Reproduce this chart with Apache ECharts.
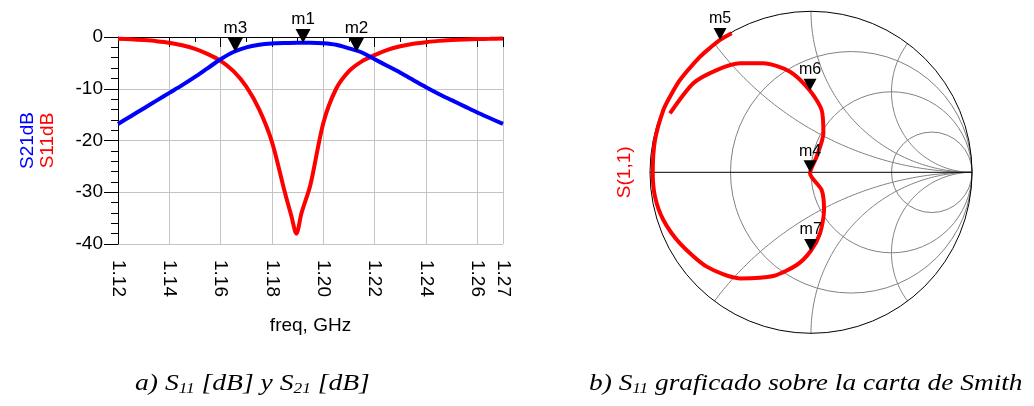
<!DOCTYPE html>
<html>
<head>
<meta charset="utf-8">
<script src="https://cdn.jsdelivr.net/npm/echarts@6/dist/echarts.min.js"></script>
<style>
  html, body { margin: 0; padding: 0; background: #fff; }
  #main { width: 1034px; height: 406px; }
</style>
</head>
<body>
<div id="main"></div>
<script>
// a) S21 / S11 en dB contra frecuencia (GHz)
var freq21 = [1.12, 1.125, 1.13, 1.135, 1.14, 1.145, 1.15, 1.155, 1.16, 1.165, 1.17, 1.175, 1.18, 1.185, 1.19, 1.195,
  1.2, 1.205, 1.21, 1.215, 1.22, 1.225, 1.23, 1.235, 1.24, 1.245, 1.25, 1.255, 1.26, 1.265, 1.27];
var s21dB = [-16.8, -15.3, -13.8, -12.3, -10.8, -9.3, -7.7, -6.0, -4.3, -2.9, -2.0, -1.5, -1.25, -1.15, -1.1, -1.1,
  -1.2, -1.5, -2.2, -3.0, -4.3, -5.6, -6.9, -8.3, -9.7, -11.0, -12.2, -13.4, -14.6, -15.7, -16.8];

var freq11 = [1.12, 1.125, 1.13, 1.135, 1.14, 1.145, 1.15, 1.155, 1.16, 1.165, 1.17, 1.175, 1.18, 1.185, 1.1875, 1.1895,
  1.1915, 1.195, 1.2, 1.205, 1.21, 1.215, 1.22, 1.225, 1.23, 1.235, 1.24, 1.245, 1.25, 1.255, 1.26, 1.265, 1.27];
var s11dB = [-0.35, -0.45, -0.6, -0.8, -1.1, -1.6, -2.3, -3.3, -4.6, -6.6, -9.6, -14.0, -20.3, -30.0, -34.5, -38.0,
  -34.0, -28.5, -16.6, -10.0, -6.6, -4.7, -3.5, -2.5, -1.8, -1.3, -1.0, -0.75, -0.6, -0.5, -0.4, -0.35, -0.3];

var markNames = ['m3', 'm1', 'm2'];
var markFreq = [1.1657, 1.1921, 1.2129];
var markdB = [-2.9, -1.16, -2.9];

// b) S11 sobre la carta de Smith (parte real / imaginaria)
var s11Re = [-0.493, -0.565, -0.628, -0.689, -0.814, -0.870, -0.917, -0.969, -0.983, -0.969, -0.917, -0.814, -0.648,
  -0.441, -0.234, -0.089, -0.002, 0.056, 0.081, 0.066, -0.006, 0.035, 0.077, 0.066, -0.006, -0.130, -0.296, -0.441,
  -0.586, -0.731, -0.876];
var s11Im = [0.863, 0.822, 0.772, 0.718, 0.573, 0.480, 0.387, 0.2, 0, -0.151, -0.296, -0.441, -0.586,
  -0.659, -0.644, -0.576, -0.489, -0.379, -0.234, -0.110, -0.006, 0.097, 0.242, 0.387, 0.507, 0.625, 0.677, 0.677,
  0.635, 0.553, 0.366];

var smithMarkNames = ['m5', 'm6', 'm4', 'm7'];
var smithMarkRe = [-0.565, -0.006, -0.006, -0.002];
var smithMarkIm = [0.822, 0.507, 0.0, -0.489];

// rejilla de la carta: circulos de resistencia y arcos de reactancia
var smithR = [1 / 3, 1, 3];
var smithX = [0.5, 1, 2];

var FONT = 'Liberation Sans, Arial, sans-serif';
var SERIF = 'Liberation Serif, Times New Roman, serif';
var TRI = 'path://M0,0L10,0L5,10Z';

function pairs(xs, ys) {
  return xs.map(function (x, i) { return [x, ys[i]]; });
}
function marks(names, xs, ys) {
  return names.map(function (n, i) { return { name: n, value: [xs[i], ys[i]] }; });
}

function renderSmithGrid(params, api) {
  var o = api.coord([0, 0]);
  var R = api.size([1, 1])[0];
  var grey = { stroke: '#808080', fill: 'none', lineWidth: 1 };
  var children = [];
  smithR.forEach(function (r) {
    var c = api.coord([r / (1 + r), 0]);
    children.push({ type: 'circle', shape: { cx: c[0], cy: c[1], r: R / (1 + r) }, style: grey });
  });
  smithX.forEach(function (x) {
    var bx = (x * x - 1) / (x * x + 1), by = 2 * x / (x * x + 1);
    var t0 = Math.atan2(by - 1 / x, bx - 1);
    if (t0 < 0) t0 += 2 * Math.PI;
    [1, -1].forEach(function (sg) {
      var pts = [];
      for (var i = 0; i <= 80; i++) {
        var t = t0 + (1.5 * Math.PI - t0) * i / 80;
        pts.push(api.coord([1 + Math.cos(t) / x, sg * (1 / x + Math.sin(t) / x)]));
      }
      children.push({ type: 'polyline', shape: { points: pts }, style: grey });
    });
  });
  var a = api.coord([-1, 0]), b = api.coord([1, 0]);
  children.push({ type: 'line', shape: { x1: a[0], y1: a[1], x2: b[0], y2: b[1] }, style: { stroke: '#000', lineWidth: 1 } });
  children.push({ type: 'circle', shape: { cx: o[0], cy: o[1], r: R }, style: { stroke: '#000', fill: 'none', lineWidth: 1 } });
  return { type: 'group', children: children };
}

var chart = echarts.init(document.getElementById('main'));
chart.setOption({
  animation: false,
  textStyle: { fontFamily: FONT },
  grid: [
    { left: 118, top: 37, width: 385, height: 207 },
    { left: 650, top: 11.3, width: 322, height: 322 }
  ],
  xAxis: [
    {
      type: 'value', gridIndex: 0, min: 1.12, max: 1.27, interval: 0.02,
      name: 'freq, GHz', nameLocation: 'middle', nameGap: 72,
      nameTextStyle: { fontSize: 19, color: '#000', fontFamily: FONT },
      axisLine: { lineStyle: { color: '#000' } },
      axisTick: { length: 10, lineStyle: { color: '#000' } },
      minorTick: { show: true, splitNumber: 2, length: 5, lineStyle: { color: '#000' } },
      splitLine: { show: true, lineStyle: { color: '#c4c4c4' } },
      axisLabel: {
        rotate: -90, fontSize: 19, color: '#000', margin: 16, fontFamily: FONT,
        showMinLabel: true, showMaxLabel: true,
        formatter: function (v) { return v.toFixed(2); }
      }
    },
    {
      type: 'value', gridIndex: 0, position: 'top', min: 1.12, max: 1.27,
      axisLine: { show: true, onZero: false, lineStyle: { color: '#000' } },
      axisTick: { show: false }, axisLabel: { show: false }, splitLine: { show: false }
    },
    { type: 'value', gridIndex: 1, min: -1, max: 1, show: false }
  ],
  yAxis: [
    {
      type: 'value', gridIndex: 0, min: -40, max: 0, interval: 10,
      name: '{b|S21dB}\n{r|S11dB}', nameLocation: 'middle', nameGap: 60, nameRotate: 90,
      nameTextStyle: {
        fontFamily: FONT,
        rich: {
          b: { color: '#0000ff', fontSize: 19, lineHeight: 20, fontFamily: FONT },
          r: { color: '#ff0000', fontSize: 19, lineHeight: 20, fontFamily: FONT }
        }
      },
      axisLine: { show: true, lineStyle: { color: '#000' } },
      axisTick: { length: 14, lineStyle: { color: '#000' } },
      minorTick: { show: true, splitNumber: 5, length: 7, lineStyle: { color: '#000' } },
      splitLine: { show: true, lineStyle: { color: '#c4c4c4' } },
      axisLabel: { fontSize: 19, color: '#000', margin: 15, fontFamily: FONT }
    },
    {
      type: 'value', gridIndex: 1, min: -1, max: 1,
      name: 'S(1,1)', nameLocation: 'middle', nameGap: 16, nameRotate: 90,
      nameTextStyle: { color: '#ff0000', fontSize: 19, fontFamily: FONT },
      axisLine: { show: false }, axisTick: { show: false }, axisLabel: { show: false }, splitLine: { show: false }
    }
  ],
  series: [
    {
      type: 'custom', xAxisIndex: 2, yAxisIndex: 1, silent: true,
      data: [[0, 0]], renderItem: renderSmithGrid, z: 1
    },
    {
      name: 'S11dB', type: 'line', xAxisIndex: 0, yAxisIndex: 0,
      data: pairs(freq11, s11dB), showSymbol: false, smooth: 0.3,
      lineStyle: { color: '#ff0000', width: 4 }, z: 3
    },
    {
      name: 'S21dB', type: 'line', xAxisIndex: 0, yAxisIndex: 0,
      data: pairs(freq21, s21dB), showSymbol: false, smooth: 0.3,
      lineStyle: { color: '#0000ff', width: 4 }, z: 3
    },
    {
      type: 'scatter', xAxisIndex: 0, yAxisIndex: 0,
      data: marks(markNames, markFreq, markdB),
      symbol: TRI, symbolSize: [15, 14], symbolOffset: [0, '-50%'],
      itemStyle: { color: '#000', opacity: 1 },
      label: { show: true, position: 'top', distance: 1, formatter: '{b}', fontSize: 17, color: '#000', fontFamily: FONT },
      z: 5
    },
    {
      name: 'S(1,1)', type: 'line', xAxisIndex: 2, yAxisIndex: 1,
      data: pairs(s11Re, s11Im), showSymbol: false, smooth: 0.25,
      lineStyle: { color: '#ff0000', width: 4 }, z: 3
    },
    {
      type: 'scatter', xAxisIndex: 2, yAxisIndex: 1,
      data: marks(smithMarkNames, smithMarkRe, smithMarkIm),
      symbol: TRI, symbolSize: [13, 12], symbolOffset: [0, '-50%'],
      itemStyle: { color: '#000', opacity: 1 },
      label: { show: true, position: 'top', distance: 1, formatter: '{b}', fontSize: 16, color: '#000', fontFamily: FONT },
      z: 5
    }
  ],
  graphic: [
    {
      type: 'text', x: 135, y: 384, scaleX: 1.15,
      style: {
        text: '{n|a) S}{s|11}{n| [dB] y S}{s|21}{n| [dB]}',
        verticalAlign: 'middle',
        rich: {
          n: { fontFamily: SERIF, fontStyle: 'italic', fontSize: 24, fill: '#000' },
          s: { fontFamily: SERIF, fontStyle: 'italic', fontSize: 15, fill: '#000', padding: [10, 0, 0, 0] }
        }
      }
    },
    {
      type: 'text', x: 589, y: 384, scaleX: 1.14,
      style: {
        text: '{n|b) S}{s|11}{n| graficado sobre la carta de Smith}',
        verticalAlign: 'middle',
        rich: {
          n: { fontFamily: SERIF, fontStyle: 'italic', fontSize: 24, fill: '#000' },
          s: { fontFamily: SERIF, fontStyle: 'italic', fontSize: 15, fill: '#000', padding: [10, 0, 0, 0] }
        }
      }
    }
  ]
});
</script>
</body>
</html>
